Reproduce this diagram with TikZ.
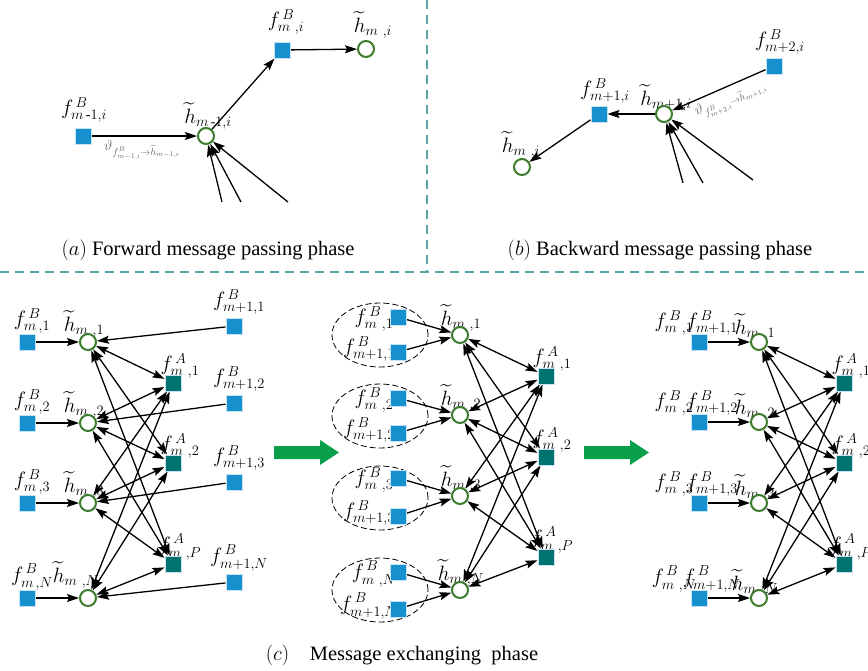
\documentclass[tikz,border=0pt]{standalone}
\usepackage{amsmath}
\usepackage{fontspec}
\setmainfont{Liberation Serif}
\usetikzlibrary{arrows.meta,shapes.geometric}
\definecolor{sqblue}{RGB}{22,145,205}
\definecolor{sqteal}{RGB}{0,115,112}
\definecolor{cgreen}{RGB}{60,125,45}
\definecolor{sepcol}{RGB}{90,165,165}
\definecolor{bigarrow}{RGB}{10,160,75}
\definecolor{glow}{RGB}{200,225,243}
\definecolor{msggray}{RGB}{105,105,105}
\newcommand\flab[2]{$f^{\,#1}_{#2}$}
\newcommand\htl[1]{$\widetilde{h}_{#1}$}
\pgfdeclarelayer{labels}
\pgfdeclarelayer{edges}
\pgfsetlayers{labels,edges,main}
\tikzset{
  fb/.style={rectangle, fill=sqblue, draw=glow, line width=1pt, minimum size=16pt, inner sep=0pt},
  fa/.style={rectangle, fill=sqteal, draw=glow, line width=1pt, minimum size=16pt, inner sep=0pt},
  hv/.style={circle, draw=cgreen, line width=2pt, fill=white, minimum size=16pt, inner sep=0pt},
  lab/.style={inner sep=0pt, font=\fontsize{20.5}{24}\selectfont},
  hlab/.style={inner sep=0pt, font=\fontsize{19.5}{23}\selectfont},
  msgl/.style={inner sep=0pt, text=msggray, font=\fontsize{14.5}{16}\selectfont},
  msg/.style={-{Stealth[length=12pt,width=8pt,inset=2pt]}, line width=1.3pt},
  bim/.style={{Stealth[length=12pt,width=8pt,inset=2pt]}-{Stealth[length=12pt,width=8pt,inset=2pt]}, line width=1.3pt},
  sep/.style={draw=sepcol, line width=1.4pt, dash pattern=on 9pt off 6pt},
  grp/.style={ellipse, draw, line width=0.8pt, dash pattern=on 6pt off 3pt, inner sep=0pt},
  capt/.style={inner sep=0pt, font=\fontsize{20.5}{24}\selectfont},
}
\begin{document}
\begin{tikzpicture}[x=1pt,y=-1pt]
\useasboundingbox (0,0) rectangle (868,670);
% separators
\draw[sep] (427,0) -- (427,272);
\draw[sep] (0,272) -- (868,272);

% ---------------- panel (a) ----------------
\node[fb] (a1) at (83,136) {};
\node[hv] (a2) at (206,136) {};
\node[fb] (a3) at (282,50) {};
\node[hv] (a4) at (366,49) {};
\coordinate (ain1) at (222,202);
\coordinate (ain2) at (241,202);
\coordinate (ain3) at (288,202);
\begin{pgfonlayer}{labels}
\node[lab] (la1) at (84,110) {\flab{B}{m\,\text{-}1,i}};
\node[hlab] (la2) at (208,116) {\htl{m\,\text{-}1,i}};
\node[lab] (la3) at (286,22) {\flab{B}{m\,\,,i}};
\node[hlab] (la4) at (373,25) {\htl{m\,\,,i}};
\node[msgl] (la5) at (142,150) {$\vartheta_{f^{B}_{m-1,i}\rightarrow\widetilde{h}_{m-1,i}}$};
\end{pgfonlayer}
\begin{pgfonlayer}{edges}
\draw[msg] (a1) -- (a2);
\draw[msg] (a2) -- (a3);
\draw[msg] (a3) -- (a4);
\draw[msg] (ain1) -- (a2);
\draw[msg] (ain2) -- (a2);
\draw[msg] (ain3) -- (a2);
\end{pgfonlayer}
\node[capt] (capa) at (208,250) {$(a)$ Forward message passing phase};

% ---------------- panel (b) ----------------
\node[fb] (b1) at (774,66) {};
\node[hv] (b2) at (664,114) {};
\node[fb] (b3) at (599,114) {};
\node[hv] (b4) at (522,167) {};
\coordinate (bin1) at (683,183);
\coordinate (bin2) at (703,183);
\coordinate (bin3) at (753,180);
\begin{pgfonlayer}{labels}
\node[lab] (lb1) at (780,42) {\flab{B}{m+2,i}};
\node[hlab] (lb2) at (666,98) {\htl{m+1,i}};
\node[lab] (lb3) at (605,91) {\flab{B}{m+1,i}};
\node[hlab] (lb4) at (521,145) {\htl{m\,\,,i}};
\node[msgl, rotate=24] (lb5) at (731,100) {$\vartheta_{f^{B}_{m+2,i}\rightarrow\widetilde{h}_{m+1,i}}$};
\end{pgfonlayer}
\begin{pgfonlayer}{edges}
\draw[msg] (b1) -- (b2);
\draw[msg] (b2) -- (b3);
\draw[msg] (b3) -- (b4);
\draw[msg] (bin1) -- (b2);
\draw[msg] (bin2) -- (b2);
\draw[msg] (bin3) -- (b2);
\end{pgfonlayer}
\node[capt] (capb) at (660,250) {$(b)$ Backward message passing phase};

% ---------------- panel (c), left ----------------
\foreach \k/\y/\yp/\s in {1/342/326/1, 2/423/403/2, 3/503/482/3, 4/598/582/N} {
  \node[fb] (lb\k) at (27,\y) {};
  \node[hv] (lh\k) at (88,\y) {};
  \node[fb] (ln\k) at (234,\yp) {};
  \begin{pgfonlayer}{labels}
  \node[lab] (llb\k) at (32,\y-21) {\flab{B}{m\,,\s}};
  \node[lab] (lln\k) at (239,\yp-24) {\flab{B}{m+1,\s}};
  \end{pgfonlayer}
}
\begin{pgfonlayer}{labels}
\node[hlab] (llh1) at (84,324) {\htl{m\,\,,1}};
\node[hlab] (llh2) at (84,405) {\htl{m\,\,,2}};
\node[hlab] (llh3) at (84,485) {\htl{m\,\,,3}};
\node[hlab] (llh4) at (76,575) {\htl{m\,\,,N}};
\end{pgfonlayer}
\foreach \j/\y/\s in {1/383/1, 2/463/2, 3/564/P} {
  \node[fa] (la\j) at (173,\y) {};
  \begin{pgfonlayer}{labels}
  \node[lab] (lla\j) at (180,\y-17) {\flab{A}{m\,\,,\s}};
  \end{pgfonlayer}
}
\begin{pgfonlayer}{edges}
\foreach \k in {1,...,4} {
  \draw[msg] (lb\k) -- (lh\k);
  \draw[msg] (ln\k) -- (lh\k);
  \foreach \j in {1,2,3} { \draw[bim] (lh\k) -- (la\j); }
}
\end{pgfonlayer}

% green arrows
\fill[bigarrow] (274,446) -- (320,446) -- (320,440) -- (339,452.5) -- (320,465) -- (320,459) -- (274,459) -- cycle;
\fill[bigarrow] (584,446) -- (630,446) -- (630,440) -- (649,452.5) -- (630,465) -- (630,459) -- (584,459) -- cycle;

% ---------------- panel (c), middle ----------------
\foreach \k/\ya/\yb/\yh/\ye/\s in {1/317/352/335/335/1, 2/398/433/415/416/2, 3/478/516/496/498/3, 4/572/609/590/590/N} {
  \node[grp, minimum width=96pt, minimum height=64pt] (mg\k) at (380,\ye) {};
  \node[fb] (mb\k) at (398,\ya) {};
  \node[fb] (mn\k) at (398,\yb) {};
  \node[hv] (mh\k) at (460,\yh) {};
  \begin{pgfonlayer}{labels}
  \node[lab] (lmb\k) at (374,\ya+2) {\flab{B}{m\,\,,\s}};
  \node[lab] (lmn\k) at (369,\yb-3) {\flab{B}{m+1,\s}};
  \node[hlab] (lmh\k) at (461,\yh-17) {\htl{m\,\,,\s}};
  \end{pgfonlayer}
}
\foreach \j/\y/\s in {1/376/1, 2/457/2, 3/557/P} {
  \node[fa] (ma\j) at (546,\y) {};
  \begin{pgfonlayer}{labels}
  \node[lab] (lma\j) at (552,\y-17) {\flab{A}{m\,\,,\s}};
  \end{pgfonlayer}
}
\begin{pgfonlayer}{edges}
\foreach \k in {1,...,4} {
  \draw[msg] (mb\k) -- (mh\k);
  \draw[msg] (mn\k) -- (mh\k);
  \foreach \j in {1,2,3} { \draw[bim] (mh\k) -- (ma\j); }
}
\end{pgfonlayer}

% ---------------- panel (c), right ----------------
\foreach \k/\y/\s in {1/342/1, 2/422/2, 3/503/3, 4/598/N} {
  \node[fb] (rb\k) at (699,\y) {};
  \node[hv] (rh\k) at (759,\y) {};
  \begin{pgfonlayer}{labels}
  \node[lab] (lrb\k) at (674,\y-19) {\flab{B}{m\,\,,\s}};
  \node[lab] (lrn\k) at (712,\y-19) {\flab{B}{m+1,\s}};
  \node[hlab] (lrh\k) at (755,\y-15) {\htl{m\,\,,\s}};
  \end{pgfonlayer}
}
\foreach \j/\y/\s in {1/383/1, 2/463/2, 3/564/P} {
  \node[fa] (ra\j) at (844,\y) {};
  \begin{pgfonlayer}{labels}
  \node[lab] (lra\j) at (851,\y-17) {\flab{A}{m\,\,,\s}};
  \end{pgfonlayer}
}
\begin{pgfonlayer}{edges}
\foreach \k in {1,...,4} {
  \draw[msg] (rb\k) -- (rh\k);
  \foreach \j in {1,2,3} { \draw[bim] (rh\k) -- (ra\j); }
}
\end{pgfonlayer}

\node[capt] (capc) at (402,655) {$(c)$\quad Message exchanging\ \ phase};
\end{tikzpicture}
\end{document}
